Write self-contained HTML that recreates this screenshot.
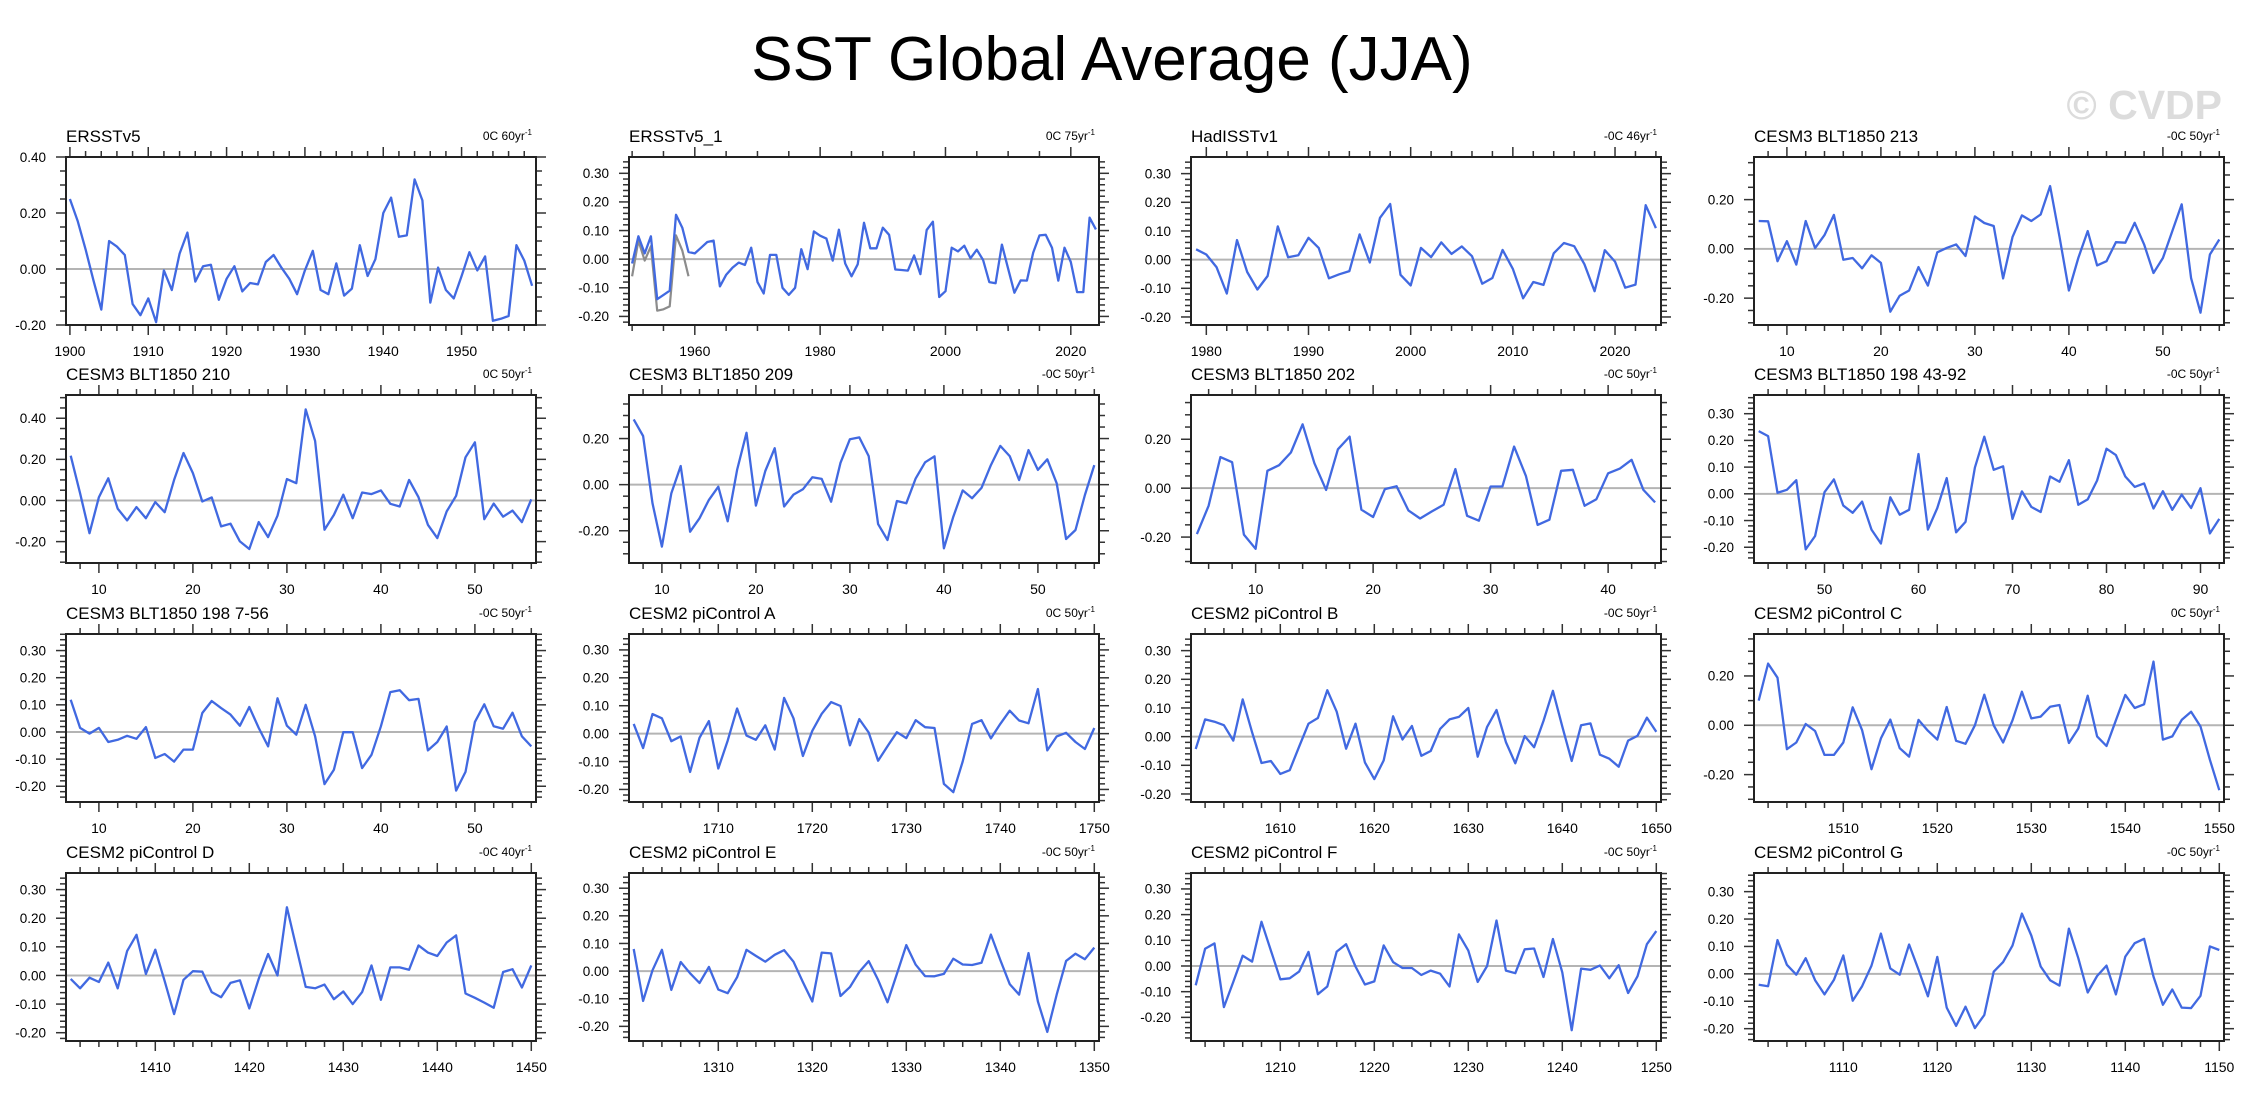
<!DOCTYPE html>
<html>
<head>
<meta charset="utf-8">
<style>
  html,body{margin:0;padding:0;background:#fff;}
  body{width:2250px;height:1103px;overflow:hidden;position:relative;font-family:"Liberation Sans",Arial,sans-serif;}
  svg{position:absolute;left:0;top:0;}
</style>
</head>
<body>
<svg id="chart" width="2250" height="1103" viewBox="0 0 2250 1103" xmlns="http://www.w3.org/2000/svg">
  <text x="1112" y="80" text-anchor="middle" font-family="Liberation Sans, Arial, sans-serif" font-size="62" fill="#000">SST Global Average (JJA)</text>
  <text x="2222" y="119" text-anchor="end" font-family="Liberation Sans, Arial, sans-serif" font-size="41" font-weight="bold" fill="#dcdcdc">© CVDP</text>
  <g id="panels"></g>
</svg>
<script>
// ---------- data (one array per series) ----------
const ersstv5Values = [0.25,0.17,0.07,-0.04,-0.145,0.10,0.08,0.05,-0.125,-0.165,-0.105,-0.19,-0.005,-0.075,0.055,0.13,-0.045,0.01,0.015,-0.11,-0.035,0.01,-0.08,-0.05,-0.055,0.025,0.05,0.005,-0.035,-0.09,-0.005,0.065,-0.075,-0.09,0.02,-0.095,-0.07,0.085,-0.025,0.035,0.2,0.255,0.115,0.12,0.32,0.245,-0.12,0.005,-0.075,-0.105,-0.025,0.06,-0.005,0.045,-0.185,-0.178,-0.168,0.085,0.03,-0.06];
const ersstv51Values = [-0.015,0.08,0.02,0.08,-0.14,-0.125,-0.11,0.155,0.11,0.025,0.02,0.04,0.06,0.065,-0.095,-0.055,-0.03,-0.012,-0.02,0.04,-0.08,-0.12,0.015,0.015,-0.1,-0.125,-0.1,0.035,-0.035,0.097,0.082,0.072,-0.005,0.103,-0.015,-0.06,-0.018,0.127,0.038,0.038,0.11,0.085,-0.036,-0.038,-0.04,0.013,-0.052,0.102,0.131,-0.132,-0.112,0.04,0.027,0.047,0.003,0.033,-0.003,-0.08,-0.084,0.051,-0.033,-0.117,-0.074,-0.075,0.023,0.083,0.085,0.04,-0.075,0.04,-0.01,-0.115,-0.115,0.145,0.104];
const ersstv51RefValues = [-0.06,0.065,-0.005,0.045,-0.18,-0.175,-0.165,0.083,0.03,-0.06];
const hadisstValues = [0.036,0.018,-0.026,-0.118,0.068,-0.043,-0.104,-0.057,0.116,0.008,0.015,0.076,0.041,-0.065,-0.051,-0.04,0.088,-0.01,0.146,0.194,-0.053,-0.09,0.041,0.009,0.06,0.02,0.046,0.012,-0.084,-0.064,0.034,-0.032,-0.135,-0.078,-0.088,0.022,0.058,0.047,-0.016,-0.11,0.033,-0.007,-0.098,-0.087,0.19,0.11];
const blt213Values = [0.113,0.112,-0.05,0.031,-0.064,0.113,0.003,0.056,0.138,-0.044,-0.037,-0.079,-0.026,-0.057,-0.255,-0.19,-0.169,-0.074,-0.149,-0.014,0.004,0.018,-0.029,0.132,0.105,0.093,-0.12,0.048,0.136,0.113,0.14,0.255,0.049,-0.169,-0.037,0.072,-0.067,-0.05,0.027,0.025,0.106,0.018,-0.098,-0.037,0.072,0.181,-0.119,-0.259,-0.023,0.038];
const blt210Values = [0.218,0.035,-0.159,0.016,0.108,-0.04,-0.097,-0.032,-0.086,-0.008,-0.057,0.1,0.231,0.133,-0.005,0.015,-0.126,-0.113,-0.199,-0.236,-0.105,-0.178,-0.074,0.104,0.084,0.443,0.29,-0.142,-0.07,0.028,-0.086,0.039,0.031,0.049,-0.016,-0.029,0.1,0.016,-0.118,-0.183,-0.053,0.023,0.21,0.283,-0.091,-0.015,-0.079,-0.049,-0.105,0.006];
const blt209Values = [0.283,0.211,-0.081,-0.269,-0.038,0.081,-0.204,-0.146,-0.066,-0.009,-0.159,0.064,0.225,-0.091,0.059,0.158,-0.095,-0.043,-0.02,0.032,0.025,-0.074,0.095,0.197,0.205,0.124,-0.171,-0.24,-0.071,-0.081,0.027,0.097,0.123,-0.276,-0.139,-0.025,-0.059,-0.014,0.085,0.168,0.124,0.02,0.15,0.064,0.11,0.006,-0.236,-0.197,-0.045,0.085];
const blt202Values = [-0.188,-0.072,0.127,0.106,-0.19,-0.248,0.071,0.094,0.146,0.261,0.102,-0.007,0.159,0.211,-0.088,-0.118,-0.004,0.008,-0.091,-0.124,-0.095,-0.068,0.078,-0.113,-0.133,0.007,0.007,0.17,0.05,-0.15,-0.129,0.071,0.075,-0.072,-0.045,0.061,0.08,0.116,-0.007,-0.058];
const blt198bValues = [0.235,0.216,0.004,0.015,0.051,-0.208,-0.158,0.006,0.054,-0.044,-0.071,-0.029,-0.134,-0.186,-0.013,-0.078,-0.06,0.149,-0.134,-0.053,0.059,-0.144,-0.105,0.098,0.214,0.09,0.103,-0.094,0.009,-0.049,-0.068,0.065,0.045,0.126,-0.041,-0.021,0.05,0.169,0.145,0.065,0.026,0.039,-0.055,0.01,-0.06,-0.003,-0.053,0.021,-0.148,-0.094];
const blt198aValues = [0.119,0.015,-0.006,0.015,-0.037,-0.029,-0.014,-0.025,0.018,-0.096,-0.081,-0.109,-0.065,-0.065,0.07,0.114,0.088,0.064,0.023,0.092,0.015,-0.053,0.124,0.023,-0.01,0.1,-0.016,-0.192,-0.139,-0.001,-0.001,-0.133,-0.084,0.021,0.147,0.154,0.117,0.122,-0.068,-0.037,0.02,-0.216,-0.147,0.037,0.102,0.021,0.012,0.071,-0.016,-0.053];
const piAValues = [0.035,-0.052,0.07,0.055,-0.027,-0.01,-0.137,-0.015,0.045,-0.125,-0.025,0.09,-0.007,-0.022,0.03,-0.057,0.128,0.055,-0.08,0.01,0.071,0.113,0.099,-0.042,0.052,0.004,-0.097,-0.045,0.005,-0.016,0.048,0.023,0.02,-0.18,-0.21,-0.1,0.035,0.048,-0.017,0.035,0.082,0.047,0.037,0.16,-0.06,-0.01,0.003,-0.03,-0.055,0.02];
const piBValues = [-0.043,0.06,0.052,0.04,-0.014,0.13,0.015,-0.092,-0.085,-0.13,-0.117,-0.035,0.045,0.065,0.162,0.087,-0.042,0.045,-0.09,-0.148,-0.083,0.071,-0.01,0.037,-0.067,-0.05,0.027,0.06,0.069,0.1,-0.07,0.034,0.093,-0.019,-0.093,0.002,-0.037,0.055,0.16,0.035,-0.085,0.04,0.046,-0.063,-0.077,-0.105,-0.014,0.003,0.066,0.017];
const piCValues = [0.1,0.25,0.193,-0.097,-0.07,0.005,-0.023,-0.12,-0.12,-0.07,0.073,-0.02,-0.178,-0.053,0.023,-0.093,-0.127,0.022,-0.022,-0.058,0.074,-0.063,-0.075,0,0.124,0,-0.07,0.02,0.136,0.028,0.035,0.075,0.082,-0.072,-0.013,0.12,-0.045,-0.084,0.02,0.123,0.07,0.085,0.258,-0.058,-0.045,0.022,0.055,-0.005,-0.14,-0.263];
const piDValues = [-0.012,-0.045,-0.008,-0.023,0.045,-0.045,0.085,0.142,0.005,0.09,-0.02,-0.135,-0.015,0.015,0.013,-0.058,-0.076,-0.026,-0.017,-0.115,-0.012,0.075,0,0.238,0.098,-0.04,-0.045,-0.032,-0.083,-0.056,-0.1,-0.058,0.035,-0.085,0.028,0.028,0.02,0.105,0.08,0.068,0.115,0.14,-0.063,-0.078,-0.095,-0.113,0.012,0.022,-0.042,0.035];
const piEValues = [0.08,-0.108,0.003,0.077,-0.068,0.033,-0.008,-0.043,0.015,-0.067,-0.08,-0.022,0.077,0.055,0.034,0.059,0.076,0.034,-0.04,-0.11,0.067,0.064,-0.09,-0.058,-0.003,0.036,-0.032,-0.113,-0.01,0.094,0.023,-0.018,-0.019,-0.01,0.045,0.024,0.022,0.03,0.132,0.04,-0.047,-0.085,0.065,-0.11,-0.22,-0.085,0.037,0.063,0.043,0.085];
const piFValues = [-0.075,0.067,0.088,-0.16,-0.062,0.04,0.017,0.172,0.06,-0.052,-0.048,-0.022,0.055,-0.11,-0.08,0.056,0.085,-0.002,-0.072,-0.06,0.08,0.015,-0.008,-0.008,-0.035,-0.018,-0.03,-0.08,0.123,0.06,-0.062,0,0.177,-0.018,-0.028,0.065,0.068,-0.043,0.105,-0.025,-0.25,-0.01,-0.015,0.002,-0.048,0.003,-0.105,-0.04,0.085,0.136];
const piGValues = [-0.04,-0.045,0.123,0.033,-0.003,0.057,-0.023,-0.075,-0.022,0.067,-0.098,-0.045,0.03,0.147,0.02,-0.003,0.107,0.015,-0.082,0.062,-0.123,-0.19,-0.12,-0.198,-0.15,0.008,0.043,0.103,0.22,0.14,0.027,-0.023,-0.043,0.165,0.057,-0.068,-0.008,0.03,-0.075,0.063,0.112,0.128,-0.01,-0.113,-0.057,-0.123,-0.125,-0.08,0.1,0.087];

const startYears = [1900,1950,1979,7, 7,7,5,43, 7,1701,1601,1501, 1401,1301,1201,1101];
const panelTitles = ["ERSSTv5","ERSSTv5_1","HadISSTv1","CESM3 BLT1850 213","CESM3 BLT1850 210","CESM3 BLT1850 209","CESM3 BLT1850 202","CESM3 BLT1850 198 43-92","CESM3 BLT1850 198 7-56","CESM2 piControl A","CESM2 piControl B","CESM2 piControl C","CESM2 piControl D","CESM2 piControl E","CESM2 piControl F","CESM2 piControl G"];
const trendLabels = ["0C 60yr","0C 75yr","-0C 46yr","-0C 50yr","0C 50yr","-0C 50yr","-0C 50yr","-0C 50yr","-0C 50yr","0C 50yr","-0C 50yr","0C 50yr","-0C 40yr","-0C 50yr","-0C 50yr","-0C 50yr"];
const yMins = [-0.2,-0.23,-0.228,-0.309,-0.304,-0.34,-0.306,-0.259,-0.258,-0.245,-0.228,-0.311,-0.229,-0.253,-0.292,-0.245];
const yMaxs = [0.4,0.357,0.358,0.373,0.513,0.389,0.381,0.37,0.361,0.357,0.358,0.37,0.358,0.355,0.362,0.368];
const yMajorSteps = [0.2,0.1,0.1,0.2,0.2,0.2,0.2,0.1,0.1,0.1,0.1,0.2,0.1,0.1,0.1,0.1];
const xMajorSteps = [10,20,10,10,10,10,10,10,10,10,10,10,10,10,10,10];
const xMinorSteps = [2,5,2,2,2,2,2,2,2,2,2,2,2,2,2,2];
const seriesList = [ersstv5Values,ersstv51Values,hadisstValues,blt213Values,blt210Values,blt209Values,blt202Values,blt198bValues,blt198aValues,piAValues,piBValues,piCValues,piDValues,piEValues,piFValues,piGValues];

const NS = "http://www.w3.org/2000/svg";
const colX = [66,629,1191,1754];
const rowY = [157,395,634,873];
const PW = 470, PH = 168;
const root = document.getElementById("panels");

function mk(tag, attrs, parent){
  const el = document.createElementNS(NS, tag);
  for (const k in attrs) el.setAttribute(k, attrs[k]);
  parent.appendChild(el);
  return el;
}
function slug(s){ return s.toLowerCase().replace(/[^a-z0-9]+/g,'-').replace(/^-|-$/g,''); }

function drawPanel(i){
  const x0 = colX[i%4], y0 = rowY[Math.floor(i/4)];
  const vals = seriesList[i];
  const start = startYears[i];
  const last = start + vals.length - 1;
  const xmin = start - 0.5, xmax = last + 0.5;
  const ymin = yMins[i], ymax = yMaxs[i];
  const xs = v => x0 + (v - xmin) / (xmax - xmin) * PW;
  const ys = v => y0 + PH - (v - ymin) / (ymax - ymin) * PH;

  const g = mk("g", {}, root);
  
  

  const title = mk("text", {x:x0, y:y0-15, "font-size":17, "font-family":"Liberation Sans, Arial, sans-serif", fill:"#000"}, g);
  title.textContent = panelTitles[i];
  
  

  const tr = mk("text", {x:x0+PW-4, y:y0-17, "font-size":12, "text-anchor":"end", "font-family":"Liberation Sans, Arial, sans-serif", fill:"#000"}, g);
  tr.textContent = trendLabels[i];
  const sup = mk("tspan", {dy:-5, "font-size":8}, tr);
  sup.textContent = "-1";
  
  

  const zl = mk("line", {x1:x0, x2:x0+PW, y1:ys(0), y2:ys(0), stroke:"#b4b4b4", "stroke-width":2}, g);
  
  

  if (i === 1) {
    let d2 = "";
    ersstv51RefValues.forEach((v,k)=>{ d2 += (k?"L":"M") + xs(start+k).toFixed(1) + "," + ys(v).toFixed(1); });
    const ref = mk("path", {d:d2, fill:"none", stroke:"#8c8c8c", "stroke-width":2.2, "stroke-linejoin":"round"}, g);
    
    
  }

  let d = "";
  vals.forEach((v,k)=>{ d += (k?"L":"M") + xs(start+k).toFixed(1) + "," + ys(v).toFixed(1); });
  const line = mk("path", {d:d, fill:"none", stroke:"#4169e1", "stroke-width":2.3, "stroke-linejoin":"round"}, g);
  
  

  const tg = mk("g", {stroke:"#333", "stroke-width":1.5}, g);
  
  
  const ystep = yMajorSteps[i], yminor = ystep === 0.2 ? 0.05 : 0.02;
  for (let k = Math.ceil(ymin/yminor - 1e-6); k*yminor <= ymax + 1e-9; k++) {
    const v = k*yminor;
    const isMaj = Math.abs(v/ystep - Math.round(v/ystep)) < 1e-6;
    const L = isMaj ? 10 : 6;
    const yy = ys(v);
    mk("line", {x1:x0-L, x2:x0, y1:yy, y2:yy}, tg);
    mk("line", {x1:x0+PW, x2:x0+PW+L, y1:yy, y2:yy}, tg);
    if (isMaj) {
      const lab = mk("text", {x:x0-20, y:yy+4.8, "font-size":13.5, "text-anchor":"end", "font-family":"Liberation Sans, Arial, sans-serif", fill:"#000", stroke:"none"}, g);
      lab.textContent = (Math.abs(v) < 1e-9 ? 0 : v).toFixed(2);
      
      
    }
  }
  const xmaj = xMajorSteps[i], xmin2 = xMinorSteps[i];
  for (let yr = Math.ceil(xmin/xmin2)*xmin2; yr <= xmax; yr += xmin2) {
    const isMaj = yr % xmaj === 0;
    const L = isMaj ? 10 : 6;
    const xx = xs(yr);
    mk("line", {x1:xx, x2:xx, y1:y0+PH, y2:y0+PH+L}, tg);
    mk("line", {x1:xx, x2:xx, y1:y0-L, y2:y0}, tg);
    if (isMaj) {
      const lab = mk("text", {x:xx, y:y0+PH+31, "font-size":14, "text-anchor":"middle", "font-family":"Liberation Sans, Arial, sans-serif", fill:"#000", stroke:"none"}, g);
      lab.textContent = String(yr);
      
      
    }
  }

  const fr = mk("rect", {x:x0, y:y0, width:PW, height:PH, fill:"none", stroke:"#222", "stroke-width":2}, g);
  
  
}

for (let i = 0; i < 16; i++) drawPanel(i);
</script>
</body>
</html>
